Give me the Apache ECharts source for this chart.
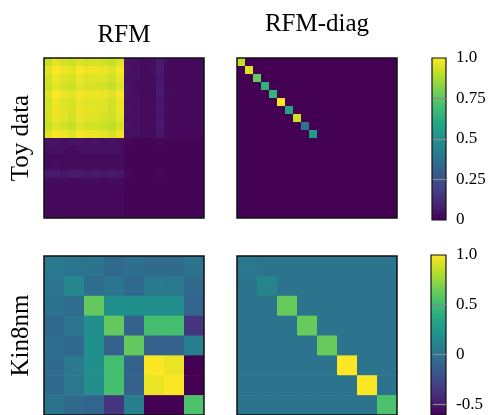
<!DOCTYPE html>
<html>
<head>
<meta charset="utf-8">
<script src="https://cdn.jsdelivr.net/npm/echarts@6/dist/echarts.min.js"></script>
<style>
  html, body { margin: 0; padding: 0; background: #fff; overflow: hidden; }
  #chart { width: 491px; height: 415px; }
</style>
</head>
<body>
<div id="chart"></div>
<script>
// Toy data: full RFM feature matrix (20 x 20)
const toyRfm = [
  [0.91,0.96,0.93,0.92,0.95,0.93,0.94,0.93,0.91,0.95, 0.05,0.04,0.03,0.03,0.07,0.03,0.02,0.03,0.02,0.02],
  [0.96,1.00,0.98,0.96,1.00,0.98,0.98,0.97,0.95,0.99, 0.05,0.04,0.03,0.04,0.07,0.03,0.02,0.02,0.02,0.03],
  [0.93,0.98,0.95,0.94,0.97,0.95,0.96,0.95,0.93,0.97, 0.04,0.04,0.03,0.03,0.06,0.03,0.02,0.02,0.02,0.02],
  [0.92,0.96,0.94,0.92,0.96,0.94,0.94,0.93,0.91,0.95, 0.05,0.03,0.03,0.03,0.07,0.02,0.02,0.02,0.02,0.02],
  [0.95,1.00,0.97,0.96,0.99,0.97,0.98,0.97,0.95,0.99, 0.05,0.04,0.03,0.03,0.07,0.03,0.03,0.02,0.02,0.02],
  [0.93,0.98,0.95,0.94,0.97,0.95,0.96,0.95,0.93,0.97, 0.04,0.04,0.03,0.03,0.06,0.03,0.02,0.02,0.02,0.02],
  [0.94,0.98,0.96,0.94,0.98,0.96,0.96,0.95,0.93,0.97, 0.05,0.04,0.03,0.03,0.07,0.03,0.02,0.02,0.02,0.02],
  [0.93,0.97,0.95,0.93,0.97,0.95,0.95,0.94,0.92,0.96, 0.04,0.04,0.03,0.03,0.06,0.02,0.02,0.02,0.02,0.02],
  [0.91,0.95,0.93,0.91,0.95,0.93,0.93,0.92,0.90,0.94, 0.05,0.04,0.03,0.03,0.07,0.03,0.02,0.02,0.02,0.02],
  [0.95,0.99,0.97,0.95,0.99,0.97,0.97,0.96,0.94,0.98, 0.04,0.04,0.03,0.03,0.06,0.03,0.02,0.02,0.02,0.02],
  [0.05,0.05,0.04,0.05,0.05,0.04,0.05,0.04,0.05,0.04, 0.02,0.01,0.01,0.01,0.02,0.01,0.01,0.01,0.01,0.01],
  [0.04,0.04,0.04,0.03,0.04,0.04,0.04,0.04,0.04,0.04, 0.01,0.01,0.01,0.01,0.01,0.01,0.01,0.01,0.01,0.01],
  [0.03,0.03,0.03,0.03,0.03,0.03,0.03,0.03,0.03,0.03, 0.01,0.01,0.01,0.01,0.01,0.01,0.01,0.01,0.01,0.01],
  [0.03,0.04,0.03,0.03,0.03,0.03,0.03,0.03,0.03,0.03, 0.01,0.01,0.01,0.01,0.01,0.01,0.01,0.01,0.01,0.01],
  [0.07,0.07,0.06,0.07,0.07,0.06,0.07,0.06,0.07,0.06, 0.02,0.01,0.01,0.01,0.02,0.01,0.01,0.01,0.01,0.01],
  [0.03,0.03,0.03,0.02,0.03,0.03,0.03,0.02,0.03,0.03, 0.01,0.01,0.01,0.01,0.01,0.01,0.01,0.01,0.01,0.01],
  [0.02,0.02,0.02,0.02,0.03,0.02,0.02,0.02,0.02,0.02, 0.01,0.01,0.01,0.01,0.01,0.01,0.01,0.01,0.01,0.01],
  [0.03,0.02,0.02,0.02,0.02,0.02,0.02,0.02,0.02,0.02, 0.01,0.01,0.01,0.01,0.01,0.01,0.01,0.01,0.01,0.01],
  [0.02,0.02,0.02,0.02,0.02,0.02,0.02,0.02,0.02,0.02, 0.01,0.01,0.01,0.01,0.01,0.01,0.01,0.01,0.01,0.01],
  [0.02,0.03,0.02,0.02,0.02,0.02,0.02,0.02,0.02,0.02, 0.01,0.01,0.01,0.01,0.01,0.01,0.01,0.01,0.01,0.01]
];
// Toy data: diagonal RFM, leading entries (the other 10 diagonal entries are zero)
const toyDiag = [0.91, 0.95, 0.76, 0.64, 0.65, 1.00, 0.58, 0.93, 0.38, 0.54];
const toySize = 20;

// Kin8nm: full RFM feature matrix (8 x 8)
const kinRfm = [
  [ 0.04,  0.02,  0.01, -0.06, -0.03, -0.05, -0.05,  0.01],
  [ 0.02,  0.13, -0.04,  0.02, -0.07,  0.04,  0.03, -0.05],
  [ 0.01, -0.04,  0.61,  0.19,  0.19,  0.19,  0.18, -0.09],
  [-0.06,  0.02,  0.19,  0.61, -0.11,  0.52,  0.52, -0.37],
  [-0.03, -0.07,  0.19, -0.11,  0.61, -0.11, -0.11,  0.08],
  [-0.05,  0.04,  0.19,  0.52, -0.11,  1.00,  0.95, -0.61],
  [-0.05,  0.03,  0.18,  0.52, -0.11,  0.95,  1.00, -0.61],
  [ 0.01, -0.05, -0.09, -0.37,  0.08, -0.61, -0.61,  0.54]
];
// Kin8nm: diagonal RFM entries
const kinDiag = [0.03, 0.11, 0.62, 0.62, 0.62, 1.00, 1.00, 0.54];

// Colour ranges and colour-bar tick labels
const toyRange = [0, 1];
const kinRange = [-0.61, 1];
const toyTicks = [0, 0.25, 0.5, 0.75, 1];
const kinTicks = [-0.5, 0, 0.5, 1];

const colTitles = ['RFM', 'RFM-diag'];
const rowTitles = ['Toy data', 'Kin8nm'];

const viridis = ['#440154', '#482475', '#414487', '#355f8d', '#2a788e', '#21918c',
                 '#22a884', '#44bf70', '#7ad151', '#bddf26', '#fde725'];

const SERIF = '"Liberation Serif", "DejaVu Serif", serif';

function diagMatrix(diag, n) {
  const m = [];
  for (let i = 0; i < n; i++) {
    const row = [];
    for (let j = 0; j < n; j++) row.push(i === j && i < diag.length ? diag[i] : 0);
    m.push(row);
  }
  return m;
}

function cells(m) {
  const out = [];
  m.forEach((row, i) => row.forEach((v, j) => out.push([j, i, v])));
  return out;
}

// One matrix cell: a rect covering its band on both category axes,
// grown by a fraction of a pixel so neighbouring cells leave no seams.
function renderCell(params, api) {
  const p = api.coord([api.value(0), api.value(1)]);
  const s = api.size([1, 1]);
  return {
    type: 'rect',
    shape: { x: p[0] - s[0] / 2, y: p[1] - s[1] / 2, width: s[0] + 0.6, height: s[1] + 0.6 },
    style: { fill: api.visual('color') }
  };
}

const matrices = [toyRfm, diagMatrix(toyDiag, toySize), kinRfm, diagMatrix(kinDiag, kinDiag.length)];

const heatGrids = [
  { left: 44,  top: 58,  width: 160, height: 160 },
  { left: 237, top: 58,  width: 160, height: 160 },
  { left: 44,  top: 256, width: 160, height: 160 },
  { left: 237, top: 256, width: 160, height: 160 }
];
const barGrids = [
  { left: 432, top: 58,  width: 14, height: 162 },
  { left: 431, top: 255, width: 15, height: 161 }
];

const grid = [];
const xAxis = [];
const yAxis = [];
const series = [];

matrices.forEach((m, k) => {
  const row = Math.floor(k / 2), col = k % 2;
  const idx = m.map((_, i) => String(i));
  grid.push(Object.assign({ show: true, borderColor: '#111', borderWidth: 1.5,
                            backgroundColor: 'rgba(0,0,0,0)', z: 10 }, heatGrids[k]));
  xAxis.push({
    type: 'category', gridIndex: k, data: idx, position: 'top',
    axisLine: { show: false }, axisTick: { show: false }, axisLabel: { show: false },
    splitLine: { show: false },
    name: row === 0 ? colTitles[col] : '', nameLocation: 'middle',
    nameGap: col === 0 ? 10 : 21,
    nameTextStyle: { fontFamily: SERIF, fontSize: 25, color: '#000' }
  });
  yAxis.push({
    type: 'category', gridIndex: k, data: idx, inverse: true,
    axisLine: { show: false }, axisTick: { show: false }, axisLabel: { show: false },
    splitLine: { show: false },
    name: col === 0 ? rowTitles[row] : '', nameLocation: 'middle', nameGap: 10,
    nameRotate: 90,
    nameTextStyle: { fontFamily: SERIF, fontSize: 25, color: '#000' }
  });
  series.push({
    type: 'custom', xAxisIndex: k, yAxisIndex: k, data: cells(m),
    encode: { x: 0, y: 1 }, silent: true, clip: true,
    renderItem: renderCell
  });
});

const gradientStops = viridis.map((c, i) => ({ offset: i / (viridis.length - 1), color: c }));

[[toyRange, toyTicks], [kinRange, kinTicks]].forEach(([range, ticks], b) => {
  const gi = 4 + b;
  grid.push(Object.assign({ show: false }, barGrids[b]));
  xAxis.push({ type: 'category', gridIndex: gi, data: ['c'], show: false });
  yAxis.push({
    type: 'value', gridIndex: gi, position: 'right', min: range[0], max: range[1],
    z: 20,
    axisLine: { show: false },
    splitLine: { show: false },
    axisTick: { show: true, inside: true, length: 13,
                lineStyle: { color: '#8a8a8a', width: 1.2 },
                customValues: ticks.filter(t => t > range[0] && t < range[1]) },
    axisLabel: { show: true, margin: 10, fontFamily: SERIF, fontSize: 17, color: '#000',
                 customValues: ticks,
                 formatter: v => (v === 1 ? '1.0' : String(v)) }
  });
  series.push({
    type: 'custom', xAxisIndex: gi, yAxisIndex: gi, silent: true, z: 2,
    data: [[0, range[0], range[1]]],
    encode: { x: 0, y: [1, 2] },
    renderItem: (params, api) => {
      const topPt = api.coord([0, api.value(2)]);
      const botPt = api.coord([0, api.value(1)]);
      const cs = params.coordSys;
      return {
        type: 'rect',
        shape: { x: cs.x, y: topPt[1], width: cs.width, height: botPt[1] - topPt[1] },
        style: {
          fill: new echarts.graphic.LinearGradient(0, 1, 0, 0, gradientStops),
          stroke: '#111', lineWidth: 1.2
        }
      };
    }
  });
});

const chart = echarts.init(document.getElementById('chart'), null, { renderer: 'canvas' });
chart.setOption({
  animation: false,
  backgroundColor: '#fff',
  grid, xAxis, yAxis, series,
  visualMap: [
    { type: 'continuous', show: false, min: toyRange[0], max: toyRange[1], dimension: 2,
      seriesIndex: [0, 1], inRange: { color: viridis } },
    { type: 'continuous', show: false, min: kinRange[0], max: kinRange[1], dimension: 2,
      seriesIndex: [2, 3], inRange: { color: viridis } }
  ]
});
</script>
</body>
</html>
